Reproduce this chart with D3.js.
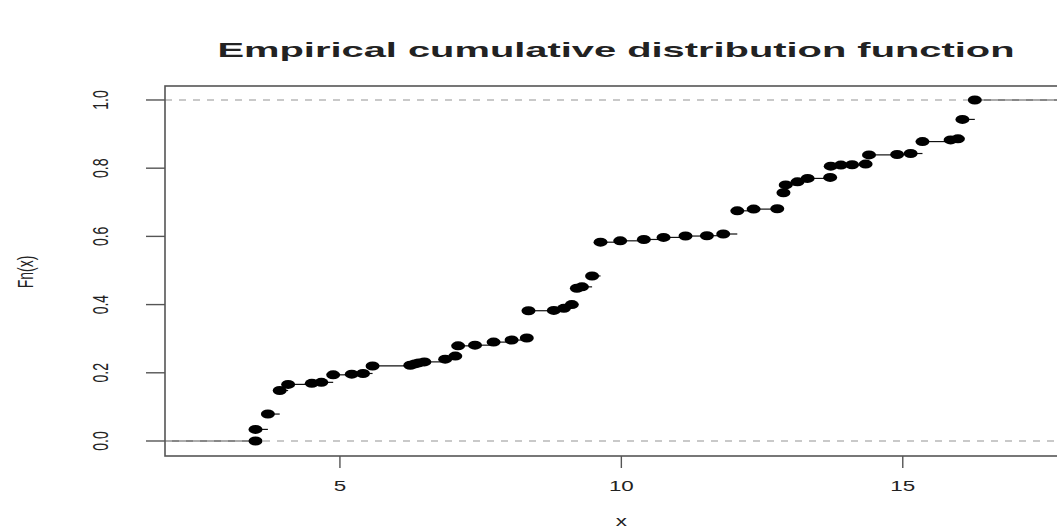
<!DOCTYPE html>
<html>
<head>
<meta charset="utf-8">
<script src="https://cdn.jsdelivr.net/npm/d3@7"></script>
<style>
  html, body { margin: 0; padding: 0; background: #fff; }
  svg { display: block; }
  text { font-family: "Liberation Sans", Arial, sans-serif; fill: #222; }
</style>
</head>
<body>
<svg id="chart" width="1057" height="532"></svg>
<script>
// ---- data ----
const knotX = [3.50, 3.50, 3.72, 3.93, 4.08, 4.50, 4.67, 4.88, 5.21, 5.41, 5.58,
  6.25, 6.33, 6.40, 6.50, 6.87, 7.05, 7.10, 7.40, 7.73, 8.05, 8.32,
  8.35, 8.80, 8.98, 9.12, 9.21, 9.30, 9.48,
  9.63, 9.98, 10.40, 10.75, 11.14, 11.52, 11.81,
  12.06, 12.35, 12.77, 12.88, 12.92, 13.13, 13.31, 13.71,
  13.72, 13.90, 14.10, 14.34, 14.40, 14.90, 15.14,
  15.35, 15.85, 15.98, 16.06, 16.28];
const knotF = [0.000, 0.034, 0.079, 0.148, 0.166, 0.169, 0.172, 0.194, 0.196, 0.198, 0.220,
  0.222, 0.226, 0.229, 0.232, 0.240, 0.249, 0.279, 0.281, 0.290, 0.296, 0.302,
  0.382, 0.383, 0.389, 0.400, 0.448, 0.452, 0.484,
  0.583, 0.587, 0.591, 0.597, 0.601, 0.602, 0.607,
  0.675, 0.680, 0.681, 0.728, 0.751, 0.760, 0.770, 0.773,
  0.806, 0.809, 0.810, 0.812, 0.839, 0.840, 0.843,
  0.878, 0.883, 0.886, 0.943, 1.000];
const xTicks = [5, 10, 15];
const yTicks = [0.0, 0.2, 0.4, 0.6, 0.8, 1.0];
const yTickLabels = ["0.0", "0.2", "0.4", "0.6", "0.8", "1.0"];
const refLines = [0, 1];
const titleText = "Empirical cumulative distribution function";
const xLabel = "x";
const yLabel = "Fn(x)";
const xDomain = [1.892, 17.9];
const yDomain = [-0.044, 1.041];

(function () {
// ---- layout ----
const svg = d3.select("#chart");
const pL = 165, pR = 1066, pT = 86, pB = 456;
const SX = 1.6; // horizontal stretch of the original picture

const x = d3.scaleLinear().domain(xDomain).range([pL, pR]);
const y = d3.scaleLinear().domain(yDomain).range([pB, pT]);

// step segments (black), drawn first
const segs = [];
segs.push({x1: xDomain[0], x2: knotX[0], f: 0});
for (let i = 0; i < knotX.length; i++) {
  const x2 = i < knotX.length - 1 ? knotX[i + 1] : xDomain[1];
  segs.push({x1: knotX[i], x2: x2, f: knotF[i]});
}
svg.append("g").selectAll("line").data(segs).join("line")
  .attr("x1", d => x(d.x1)).attr("x2", d => x(d.x2))
  .attr("y1", d => y(d.f)).attr("y2", d => y(d.f))
  .attr("stroke", "#111").attr("stroke-width", 1.2);

// grey dashed reference lines at 0 and 1
svg.append("g").selectAll("line").data(refLines).join("line")
  .attr("x1", pL).attr("x2", pR)
  .attr("y1", d => y(d)).attr("y2", d => y(d))
  .attr("stroke", "#b8b8b8").attr("stroke-width", 1.3)
  .attr("stroke-dasharray", "7,7");

// points
svg.append("g").selectAll("ellipse").data(knotX.map((v, i) => [v, knotF[i]])).join("ellipse")
  .attr("cx", d => x(d[0])).attr("cy", d => y(d[1]))
  .attr("rx", 7).attr("ry", 4.5)
  .attr("fill", "#000");

// frame
svg.append("rect")
  .attr("x", pL).attr("y", pT)
  .attr("width", pR - pL).attr("height", pB - pT)
  .attr("fill", "none").attr("stroke", "#555").attr("stroke-width", 1.6);

// x axis ticks + labels
const gx = svg.append("g");
gx.selectAll("line").data(xTicks).join("line")
  .attr("x1", d => x(d)).attr("x2", d => x(d))
  .attr("y1", pB).attr("y2", pB + 12)
  .attr("stroke", "#555").attr("stroke-width", 1.4);
gx.selectAll("text").data(xTicks).join("text")
  .attr("transform", d => `translate(${x(d)},${491}) scale(${SX},1)`)
  .attr("text-anchor", "middle")
  .attr("font-size", 14)
  .text(d => d3.format("d")(d));

// y axis ticks + labels
const gy = svg.append("g");
gy.selectAll("line").data(yTicks).join("line")
  .attr("x1", pL - 19).attr("x2", pL)
  .attr("y1", d => y(d)).attr("y2", d => y(d))
  .attr("stroke", "#555").attr("stroke-width", 1.4);
gy.selectAll("text").data(yTicks).join("text")
  .attr("transform", d => `translate(${108},${y(d)}) scale(${SX},1) rotate(-90)`)
  .attr("text-anchor", "middle")
  .attr("font-size", 14)
  .text((d, i) => yTickLabels[i]);

// axis titles
svg.append("text")
  .attr("transform", `translate(${x(10)},${526}) scale(${SX},1)`)
  .attr("text-anchor", "middle").attr("font-size", 14)
  .text(xLabel);
svg.append("text")
  .attr("transform", `translate(${33},${272}) scale(${SX},1) rotate(-90)`)
  .attr("text-anchor", "middle").attr("font-size", 14)
  .text(yLabel);

// main title
svg.append("text")
  .attr("x", 616).attr("y", 57)
  .attr("text-anchor", "middle")
  .attr("font-size", 21).attr("font-weight", "bold")
  .attr("textLength", 797).attr("lengthAdjust", "spacingAndGlyphs")
  .text(titleText);
})();
</script>
</body>
</html>
